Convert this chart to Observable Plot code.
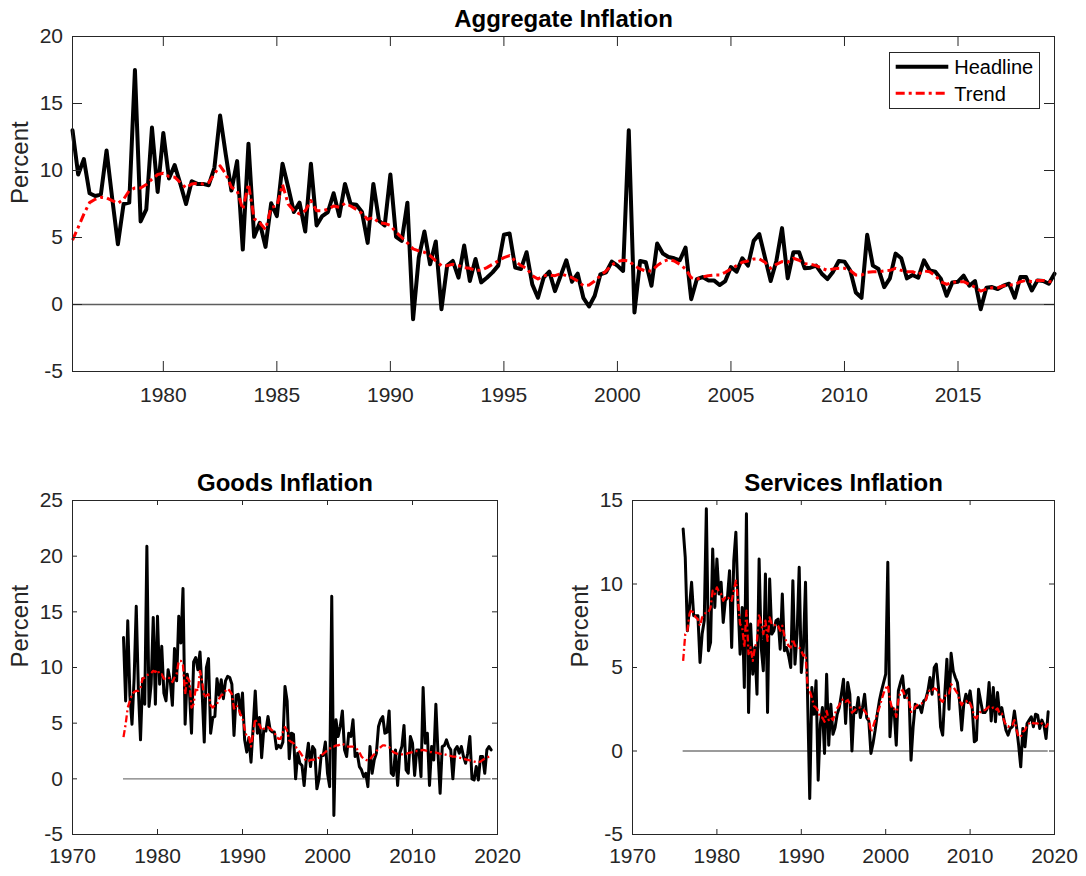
<!DOCTYPE html>
<html>
<head>
<meta charset="utf-8">
<script src="https://cdn.jsdelivr.net/npm/d3@7"></script>
<script src="https://cdn.jsdelivr.net/npm/@observablehq/plot@0.6"></script>
<style>
  body { margin: 0; background: #fff; }
  #chart { position: relative; width: 1086px; height: 876px; font-family: "Liberation Sans", Arial, sans-serif; }
  .panel { position: absolute; }
  #legend { position: absolute; left: 889px; top: 52px; width: 149px; height: 55px; border: 1px solid #262626; background: #fff; }
</style>
</head>
<body>
<div id="chart">
  <div class="panel" id="top" style="left:0;top:0;width:1086px;height:410px"></div>
  <div class="panel" id="goods" style="left:0;top:460px;width:530px;height:416px"></div>
  <div class="panel" id="services" style="left:560px;top:460px;width:526px;height:416px"></div>
  <div id="legend">
    <svg width="149" height="55" style="display:block">
      <line x1="5.7" x2="58.3" y1="13.7" y2="13.7" stroke="#000" stroke-width="4"></line>
      <line x1="5.7" x2="58.3" y1="40.3" y2="40.3" stroke="#ff0000" stroke-width="3" stroke-dasharray="9,4,3,4"></line>
      <text x="64.3" y="21" font-size="20" font-family="Liberation Sans, Arial, sans-serif" fill="#000">Headline</text>
      <text x="64.3" y="47.7" font-size="20" font-family="Liberation Sans, Arial, sans-serif" fill="#000">Trend</text>
    </svg>
  </div>
</div>
<script>
// Quarterly observations, 1976Q1 .. 2019Q2
const startYear = 1976;

const aggHeadline = [
  13.0, 9.7, 10.85, 8.3,   8.1, 8.2, 11.5, 7.9,   4.5, 7.5, 7.6, 17.5,   6.2, 7.1, 13.2, 8.4,
  12.8, 9.4, 10.4, 9.0,    7.5, 9.2, 9.0, 9.0,    8.9, 10.2, 14.1, 11.2,  8.5, 10.7, 4.1, 12.0,
  5.05, 6.1, 4.3, 7.55,    6.6, 10.5, 8.75, 6.9,  7.6, 5.45, 10.5, 5.9,   6.6, 6.9, 8.3, 6.6,
  9.0, 7.5, 7.45, 6.9,     4.6, 9.0, 6.25, 5.9,   9.7, 5.05, 4.75, 7.6,   -1.1, 3.5, 5.45, 3.0,
  4.7, -0.35, 2.9, 3.25,   2.0, 4.4, 1.75, 3.4,   1.65, 2.0, 2.4, 2.9,    5.2, 5.3, 2.75, 2.65,
  3.9, 1.5, 0.5, 2.0,      2.45, 1.0, 2.15, 3.3,  1.7, 2.3, 0.5, -0.15,   0.65, 2.25, 2.4, 3.2,
  2.9, 2.5, 13.0, -0.6,    3.25, 3.15, 1.4, 4.55, 3.8, 3.55, 3.45, 3.3,   4.25, 0.4, 1.9, 2.05,
  1.8, 1.8, 1.45, 1.75,    2.8, 2.45, 3.45, 2.9,  4.75, 5.25, 3.5, 1.75,  3.25, 5.7, 1.95, 3.9,
  3.9, 2.7, 2.75, 2.9,     2.3, 1.9, 2.45, 3.25,  3.2, 2.55, 0.9, 0.5,    5.2, 2.9, 2.65, 1.3,
  1.95, 3.8, 3.45, 1.95,   2.2, 2.0, 3.3, 2.55,   2.45, 1.9, 0.65, 1.65,  1.7, 2.15, 1.4, 1.75,
  -0.35, 1.25, 1.3, 1.15,  1.4, 1.55, 0.5, 2.05,  2.05, 1.05, 1.8, 1.75,  1.55, 2.3
];
const aggTrend = [
  4.8, 5.75, 6.75, 7.6,    7.85, 8.0, 7.95, 7.75, 7.55, 7.85, 8.5, 8.7,   8.7, 8.95, 9.35, 9.7,
  9.8, 9.55, 9.5, 9.1,     8.7, 9.0, 9.05, 9.0,   9.1, 9.75, 10.35, 9.75, 8.75, 8.5, 7.1, 9.0,
  6.4, 6.1, 5.6, 7.25,     7.35, 8.95, 7.5, 7.0,  6.75, 7.0, 7.75, 7.0,   7.0, 7.1, 7.35, 7.25,
  7.55, 7.35, 7.1, 6.8,    6.35, 6.5, 6.1, 6.05,  5.9, 5.4, 5.0, 4.6,     4.15, 4.0, 3.9, 3.65,
  3.25, 2.9, 2.9, 3.0,     2.9, 2.75, 2.7, 2.55,  2.55, 2.75, 3.0, 3.25,  3.5, 3.65, 3.25, 2.9,
  2.7, 2.15, 1.9, 2.15,    2.2, 2.15, 2.3, 2.15,  2.0, 1.75, 1.4, 1.45,   1.75, 2.15, 2.5, 2.95,
  3.2, 3.3, 3.25, 2.9,     2.65, 2.5, 2.5, 2.9,   3.2, 3.35, 3.25, 3.0,   2.65, 2.0, 1.9, 2.05,
  2.15, 2.2, 2.2, 2.4,     2.65, 2.9, 3.15, 3.25, 3.4, 3.4, 3.15, 2.7,    3.0, 3.2, 3.15, 3.45,
  3.3, 3.05, 3.0, 2.9,     2.7, 2.55, 2.65, 2.7,  2.7, 2.55, 2.2, 2.2,    2.4, 2.45, 2.45, 2.5,
  2.55, 2.7, 2.55, 2.45,   2.45, 2.25, 2.5, 2.45, 2.15, 1.7, 1.5, 1.65,   1.7, 1.7, 1.5, 1.3,
  1.0, 1.15, 1.25, 1.25,   1.4, 1.45, 1.5, 1.7,   1.8, 1.7, 1.8, 1.8,     1.7, 1.75
];

const goodsHeadline = [
  12.7, 7.0, 14.2, 7.5,    4.9, 9.0, 15.5, 8.0,   3.5, 9.0, 6.7, 20.9,    6.5, 8.5, 14.5, 6.7,
  14.6, 8.5, 11.9, 7.7,    7.0, 9.8, 8.8, 6.6,    11.7, 8.8, 14.6, 12.2,  17.1, 4.9, 9.4, 8.0,
  4.1, 10.5, 10.9, 9.8,    11.4, 7.8, 3.3, 10.0,  10.8, 4.1, 5.5, 5.6,    9.0, 7.5, 8.9, 7.2,
  8.8, 9.2, 9.1, 8.5,      3.9, 7.5, 7.6, 5.8,    7.7, 3.5, 2.4, 3.7,     1.5, 4.6, 7.9, 4.1,
  5.5, 1.9, 4.4, 4.3,      5.6, 4.4, 4.2, 4.2,    2.7, 3.0, 2.8, 3.3,     8.3, 7.0, 1.8, 4.1,
  4.0, 0.0, 2.3, 1.4,      1.2, -0.6, 1.7, 3.2,   1.1, 2.9, 2.6, -0.9,    0.0, 2.1, 2.1, 3.3,
  0.5, -0.7, 16.4, -3.3,   5.3, 3.8, 4.7, 6.1,    2.6, 2.0, 4.1, 3.8,     5.3, 2.0, 2.3, 1.1,
  0.8, 0.2, 0.5, -0.7,     2.9, 0.5, 1.7, 2.3,    4.7, 5.3, 5.6, 4.1,     4.2, 6.1, 0.5, 0.3,
  2.6, -0.6, 2.3, 2.9,     4.8, 0.8, 0.5, 3.8,    3.2, 0.3, 2.6, 2.6,     0.2, 8.2, 3.2, 4.1,
  -0.6, 2.9, 1.7, 6.7,     2.3, -1.3, 2.9, 3.0,   3.5, 2.9, 2.6, 0.0,     2.6, 2.9, 2.3, 2.9,
  2.0, 1.4, 2.3, 3.8,      0.0, -0.1, 1.1, -0.1,  2.0, 2.0, 0.5, 2.6,     2.9, 2.6
];
const goodsTrend = [
  3.75, 4.9, 6.4, 7.0,     7.6, 7.8, 7.9, 7.9,    8.2, 9.0, 9.1, 9.3,     9.4, 9.5, 9.7, 9.6,
  9.8, 9.4, 9.4, 9.0,      9.0, 9.1, 9.0, 8.7,    9.1, 9.4, 10.6, 10.6,   10.2, 7.6, 9.1, 8.8,
  6.4, 6.7, 8.2, 7.9,      9.7, 8.8, 7.3, 7.5,    7.6, 6.6, 6.4, 6.6,     6.7, 7.2, 7.5, 7.6,
  7.9, 8.1, 7.9, 7.6,      6.3, 6.6, 6.4, 5.8,    5.5, 4.5, 3.75, 3.75,   2.9, 4.1, 5.4, 4.9,
  4.9, 4.35, 4.5, 4.5,     4.65, 4.5, 4.35, 4.2,  3.75, 3.6, 3.6, 4.2,    4.65, 4.35, 3.45, 3.3,
  3.2, 2.9, 2.6, 2.4,      2.1, 1.9, 1.6, 1.6,    1.7, 1.7, 1.75, 1.8,    1.9, 2.1, 2.25, 2.4,
  2.6, 2.7, 2.9, 2.9,      3.0, 3.0, 3.1, 3.15,   3.05, 2.9, 2.9, 2.9,    2.9, 2.8, 2.65, 2.4,
  2.0, 1.8, 1.7, 1.65,     1.75, 2.0, 2.2, 2.5,   2.65, 2.85, 3.0, 3.0,   2.9, 2.85, 2.6, 2.4,
  2.3, 2.25, 2.2, 2.2,     2.25, 2.25, 2.3, 2.35, 2.4, 2.45, 2.5, 2.5,    2.55, 2.6, 2.55, 2.5,
  2.4, 2.4, 2.35, 2.35,    2.3, 2.25, 2.25, 2.2,  2.15, 2.1, 2.05, 2.0,   2.0, 1.95, 1.9, 1.85,
  1.8, 1.75, 1.7, 1.65,    1.6, 1.55, 1.5, 1.5,   1.55, 1.7, 1.8, 1.9,    2.0, 2.1
];

const servicesHeadline = [
  13.3, 11.6, 7.2, 8.6,    10.1, 8.1, 8.1, 8.1,   5.3, 7.0, 7.8, 14.5,    6.0, 6.5, 12.1, 8.6,
  11.5, 9.4, 10.1, 7.7,    9.0, 9.2, 10.8, 6.2,   11.4, 13.1, 9.0, 5.8,   8.6, 3.8, 14.2, 2.3,
  7.6, 4.6, 6.2, 3.4,      11.5, 6.2, 4.8, 10.6,  2.3, 10.3, 7.0, 7.2,    7.8, 7.9, 6.1, 9.4,
  6.0, 6.2, 5.7, 5.0,      10.2, 5.2, 7.0, 11.0,  4.7, 6.2, 10.1, 3.1,    -2.85, 3.8, 2.2, 4.2,
  -1.75, 1.6, 2.6, -0.15,  4.6, 0.35, 2.8, 1.0,   1.4, 2.2, 2.6, 3.4,     4.3, 1.65, 4.1, 3.4,
  0.0, 2.6, 2.3, 3.2,      2.0, 2.6, 3.4, 2.0,    1.8, -0.15, 0.45, 1.25, 2.2, 3.0, 3.6, 4.1,
  4.6, 11.3, 0.85, 2.6,    2.4, 0.35, 3.6, 4.1,   4.5, 3.2, 3.6, 3.7,     -0.55, 1.45, 2.8, 2.6,
  2.7, 2.3, 3.0, 3.1,      3.6, 4.4, 3.4, 5.0,    5.2, 3.8, 1.45, 0.95,   3.4, 5.5, 2.5, 5.85,
  4.8, 4.4, 4.1, 3.0,      1.25, 2.8, 3.4, 2.9,   3.6, 2.6, 0.55, 0.65,   3.7, 3.0, 2.3, 2.3,
  2.5, 4.1, 1.8, 3.8,      1.75, 3.5, 2.2, 2.6,   1.9, 1.25, 0.95, 1.35,  1.45, 2.4, 1.45, 0.35,
  -0.95, 1.35, 0.25, 1.65, 1.85, 2.05, 1.45, 2.2, 2.15, 1.35, 1.85, 1.55, 0.75, 2.35
];
const servicesTrend = [
  5.4, 7.0, 7.2, 8.2,      8.5, 8.2, 8.0, 7.9,    7.5, 8.0, 8.2, 8.3,     8.3, 8.6, 9.6, 9.4,
  9.8, 9.5, 9.4, 9.0,      9.2, 9.1, 9.2, 9.0,    9.6, 10.2, 9.0, 7.6,    7.4, 6.2, 8.4, 5.8,
  6.2, 5.4, 6.2, 6.6,      8.2, 7.6, 7.0, 7.8,    6.6, 8.0, 7.6, 7.5,     7.6, 7.5, 7.2, 7.5,
  6.9, 6.5, 6.3, 6.2,      6.7, 6.3, 6.3, 6.2,    6.0, 5.7, 5.8, 3.8,     3.6, 3.2, 2.7, 2.6,
  2.4, 2.0, 2.0, 1.75,     2.4, 1.85, 2.0, 1.85,  2.25, 2.55, 2.75, 3.05, 3.1, 2.95, 3.05, 2.85,
  2.3, 2.4, 2.55, 2.6,     2.6, 2.55, 2.4, 2.2,   1.9, 1.15, 1.45, 1.85,  2.25, 2.6, 3.05, 3.45,
  3.75, 3.95, 3.1, 2.55,   2.55, 2.05, 3.05, 3.55, 3.65, 3.35, 3.2, 3.05, 2.35, 2.35, 2.65, 2.75,
  2.85, 2.85, 2.95, 3.05,  3.45, 3.7, 3.65, 3.75, 3.7, 3.45, 3.05, 2.95,  3.25, 3.45, 3.45, 4.0,
  3.85, 3.65, 3.45, 3.05,  2.75, 2.95, 2.95, 3.05, 2.85, 2.55, 2.05, 1.95, 2.25, 2.35, 2.45, 2.45,
  2.55, 2.65, 2.55, 2.6,   2.45, 2.55, 2.25, 2.25, 1.85, 1.55, 1.45, 1.55, 1.55, 1.85, 1.25, 0.85,
  0.85, 1.15, 1.25, 1.55,  1.65, 1.75, 1.65, 1.65, 1.65, 1.55, 1.65, 1.55, 1.45, 1.65
];

const topXTicks = [1980, 1985, 1990, 1995, 2000, 2005, 2010, 2015];
const topYTicks = [-5, 0, 5, 10, 15, 20];
const bottomXTicks = [1970, 1980, 1990, 2000, 2010, 2020];
const goodsYTicks = [-5, 0, 5, 10, 15, 20, 25];
const servicesYTicks = [-5, 0, 5, 10, 15];

const dates = aggHeadline.map((_, i) => startYear + i / 4);
const fmt = d => String(d);
const axisColor = "#262626";

function panel(o) {
  const pw = o.width - o.ml - o.mr;
  const ph = o.height - o.mt - o.mb;
  return Plot.plot({
    width: o.width,
    height: o.height,
    marginLeft: o.ml, marginRight: o.mr, marginTop: o.mt, marginBottom: o.mb,
    x: {domain: o.xDomain},
    y: {domain: o.yDomain},
    style: {fontFamily: "Liberation Sans, Arial, sans-serif", fontSize: "21px", color: axisColor, background: "transparent", overflow: "visible"},
    marks: [
      Plot.ruleY([0], {x1: dates[0], x2: dates[dates.length - 1], stroke: o.zeroColor, strokeWidth: 1.3}),
      Plot.line(o.headline, {x: (d, i) => dates[i], y: d => d, stroke: "#000", strokeWidth: o.lw, strokeLinejoin: "round"}),
      Plot.line(o.trend, {x: (d, i) => dates[i], y: d => d, stroke: "#ff0000", strokeWidth: o.tw, strokeDasharray: o.dash, strokeLinecap: "butt"}),
      Plot.frame({stroke: axisColor, strokeWidth: 1}),
      Plot.tickY(o.yTicks, {y: d => d, insetRight: pw - o.tickLen, stroke: axisColor}),
      Plot.tickY(o.yTicks, {y: d => d, insetLeft: pw - o.tickLen, stroke: axisColor}),
      Plot.tickX(o.xTicks, {x: d => d, insetTop: ph - o.tickLen, stroke: axisColor}),
      Plot.tickX(o.xTicks, {x: d => d, insetBottom: ph - o.tickLen, stroke: axisColor}),
      Plot.axisX(o.xTicks, {tickSize: 0, tickPadding: o.xPad, tickFormat: fmt, label: null, fontSize: 21}),
      Plot.axisY(o.yTicks, {tickSize: 0, tickPadding: 9.5, tickFormat: fmt, label: null, fontSize: 21}),
      Plot.text([o.title], {frameAnchor: "top", lineAnchor: "bottom", dy: o.titleDy, fontSize: 24, fontWeight: "bold", fill: "#000"}),
      Plot.text(["Percent"], {frameAnchor: "left", lineAnchor: "bottom", rotate: -90, dx: -44.5, fontSize: 24, fill: axisColor})
    ]
  });
}

document.getElementById("top").append(panel({
  title: "Aggregate Inflation", headline: aggHeadline, trend: aggTrend,
  xDomain: [dates[0], dates[dates.length - 1]], yDomain: [-5, 20],
  xTicks: topXTicks, yTicks: topYTicks,
  width: 1086, height: 410, ml: 72, mr: 32, mt: 36, mb: 39,
  tickLen: 10, lw: 4, tw: 3, dash: "9,4,3,4", xPad: 16, titleDy: -10, zeroColor: "#5e5e5e"
}));

document.getElementById("goods").append(panel({
  title: "Goods Inflation", headline: goodsHeadline, trend: goodsTrend,
  xDomain: [1970, 2020], yDomain: [-5, 25],
  xTicks: bottomXTicks, yTicks: goodsYTicks,
  width: 530, height: 416, ml: 72, mr: 33, mt: 40, mb: 42,
  tickLen: 5, lw: 3, tw: 2.3, dash: "7,3,2,3", xPad: 13.5, titleDy: -9.3, zeroColor: "#7a7a7a"
}));

document.getElementById("services").append(panel({
  title: "Services Inflation", headline: servicesHeadline, trend: servicesTrend,
  xDomain: [1970, 2020], yDomain: [-5, 15],
  xTicks: bottomXTicks, yTicks: servicesYTicks,
  width: 526, height: 416, ml: 72, mr: 32, mt: 40, mb: 42,
  tickLen: 5, lw: 3, tw: 2.3, dash: "7,3,2,3", xPad: 13.5, titleDy: -9.3, zeroColor: "#7a7a7a"
}));
</script>
</body>
</html>
